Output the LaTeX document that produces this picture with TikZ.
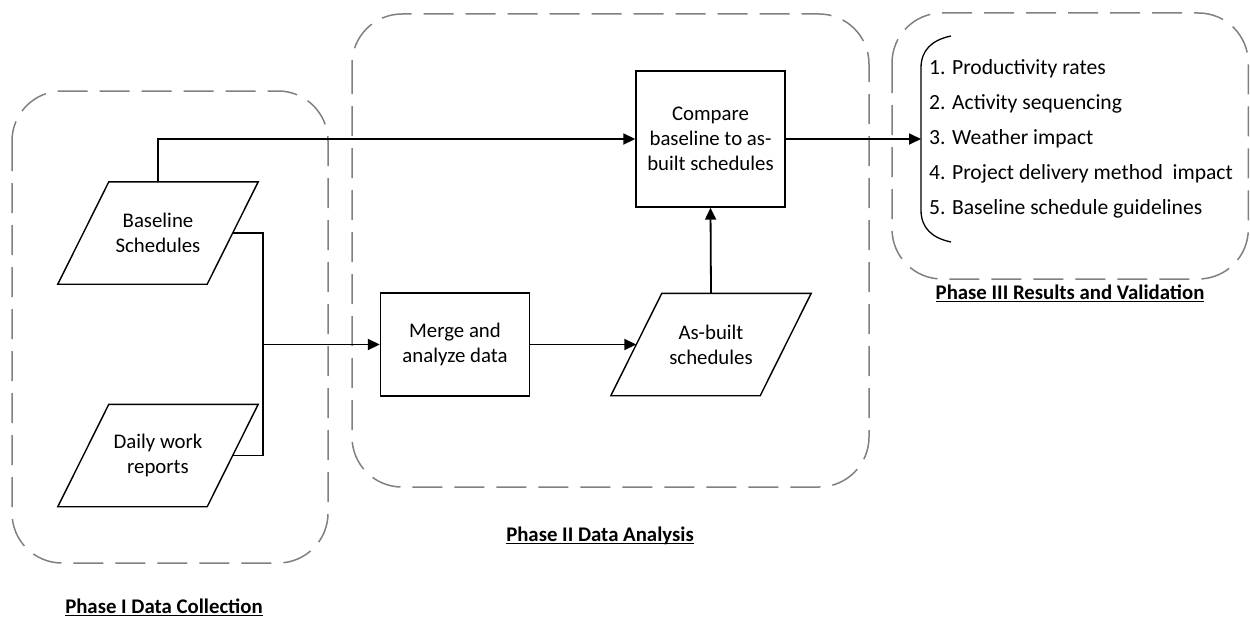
\documentclass[tikz,border=0pt]{standalone}
\usepackage{fontspec}
\setmainfont{Carlito}
\usetikzlibrary{arrows.meta,calc}
\definecolor{dashgray}{RGB}{128,128,128}
\newcommand{\myul}[1]{\setbox0\hbox{#1}\rlap{\vrule height -2.0pt depth 3.4pt width \wd0}\box0}
\newcommand{\boxfont}{\fontsize{20.8}{25}\selectfont}
\newcommand{\listfont}{\fontsize{21.6}{35}\selectfont}
\newcommand{\labfont}{\fontsize{20.8}{25}\selectfont\bfseries}
\tikzset{
  phase/.style={draw=dashgray, line width=1.5pt, dash pattern=on 30pt off 12pt, rounded corners=50pt},
  proc/.style={draw, line width=1.4pt, minimum width=149pt, inner sep=0pt, align=center, font=\boxfont},
  iobox/.style={minimum width=149pt, minimum height=102pt, inner sep=0pt, align=center, font=\boxfont},
  ioline/.style={line width=1.4pt, line join=miter},
  conn/.style={line width=1.8pt},
  arr/.style={conn, -{Triangle[length=12pt,width=11pt]}},
  lab/.style={font=\labfont, anchor=base},
}
\begin{document}
\begin{tikzpicture}[x=1pt,y=-1pt]
\useasboundingbox (0,0) rectangle (1250,618);
% phase frames
\draw[phase] (12,91) rectangle (328,563);
\draw[phase] (352,14) rectangle (869,487);
\draw[phase] (892,13) rectangle (1248.3,279);
% nodes
\node[iobox] (bs) at (158,233) {Baseline\\Schedules};
\node[iobox] (dw) at (158,455.5) {Daily work\\reports};
\node[proc, minimum height=103pt] (mg) at (455,344.5) {Merge and\\analyze data};
\node[iobox] (ab) at (711,344.5) {As-built\\schedules};
\node[proc, minimum height=136pt] (cmp) at (710.5,139) {Compare\\baseline to as-\\built schedules};
\foreach \n in {bs,dw,ab}
  \draw[ioline] ($(\n.north west)+(25.5,0)$) -- ($(\n.north east)+(25.5,0)$) -- ($(\n.south east)+(-25.5,0)$) -- ($(\n.south west)+(-25.5,0)$) -- cycle;
\node[anchor=west, align=left, font=\listfont, inner sep=0pt] (lst) at (929,139) {1. Productivity rates\\2. Activity sequencing\\3. Weather impact\\4. Project delivery method~ impact\\5. Baseline schedule guidelines};
% labels
\node[lab] (l1) at (164,613) {\myul{Phase I Data Collection}};
\node[lab] (l2) at (600,541) {\myul{Phase II Data Analysis}};
\node[lab] (l3) at (1070,299) {\myul{Phase III Results and Validation}};
% bracket
\coordinate (brk) at (921,139);
\draw[line width=1.3pt] (951,36) .. controls (932,40) and (921,50) .. (921,68) -- (921,210) .. controls (921,228) and (932,238) .. (951,242);
% connectors
\coordinate (j) at (263,344.5);
\draw[arr] (bs.north) |- (cmp.west);
\draw[conn] (bs.east) -| (j) |- (dw.east);
\draw[arr] (j) -- (mg.west);
\draw[arr] (mg.east) -- (ab.west);
\draw[arr] (ab.north) -- (cmp.south);
\draw[arr] (cmp.east) -- (brk);
\end{tikzpicture}
\end{document}
